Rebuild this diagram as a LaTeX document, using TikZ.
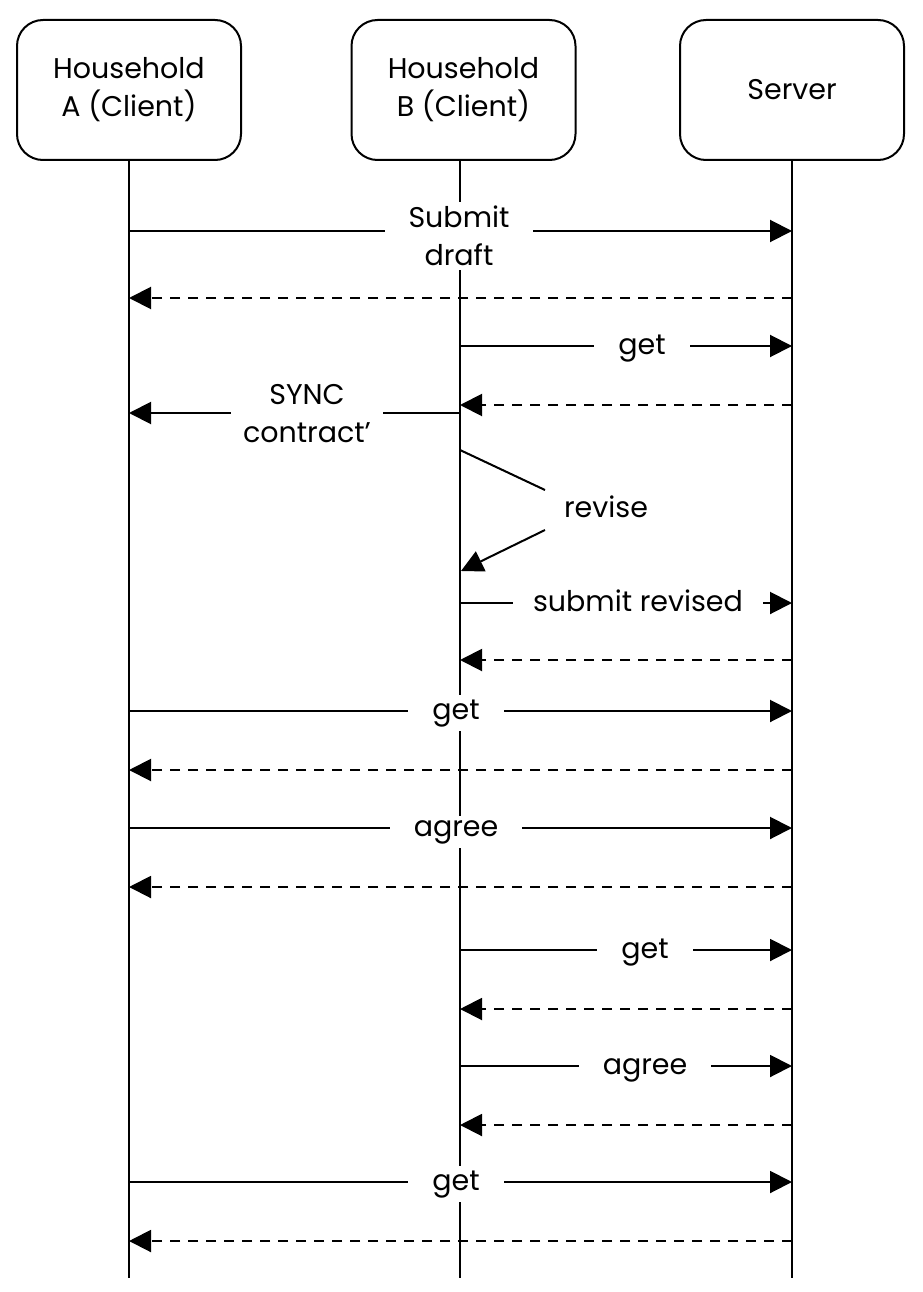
\documentclass[tikz,border=0pt]{standalone}
\usepackage{fontspec}
\setmainfont{Poppins}
\usetikzlibrary{arrows.meta}
\begin{document}
\begin{tikzpicture}[x=1pt,y=-1pt,
  actor/.style={draw,line width=2pt,rounded corners=26pt,minimum width=224pt,minimum height=140pt,align=center,inner sep=0pt,font=\fontsize{28.5}{38}\selectfont},
  life/.style={line width=2pt},
  msg/.style={line width=2pt,-{Triangle[length=22pt,width=22pt]}},
  plain/.style={line width=2pt},
  ret/.style={msg,dash pattern=on 10pt off 8pt},
  lbl/.style={fill=white,inner xsep=24pt,inner ysep=4pt,align=center,font=\fontsize{28.5}{38}\selectfont},
  one/.style={lbl,anchor=base}]
\useasboundingbox (0,0) rectangle (922,1292);
\node[actor] (A) at (129,90) {Household\\A (Client)};
\node[actor] (B) at (463.5,90) {Household\\B (Client)};
\node[actor] (S) at (792,90) {Server};
\coordinate (Ae) at (129,1278);
\coordinate (Be) at (460,1278);
\coordinate (Se) at (792,1278);
\coordinate (Bs) at (460,160);
\draw[life] (A.south) -- (Ae);
\draw[life] (Bs) -- (Be);
\draw[life] (S.south) -- (Se);
% messages
\foreach \y/\f/\t/\s in {231/A/S/msg, 298/S/A/ret, 346/B/S/msg, 405/S/B/ret, 413/B/A/msg,
  603/B/S/msg, 660/S/B/ret, 711/A/S/msg, 770/S/A/ret, 828/A/S/msg, 887/S/A/ret,
  950/B/S/msg, 1009/S/B/ret, 1066/B/S/msg, 1125/S/B/ret, 1182/A/S/msg, 1241/S/A/ret}
  \draw[\s] (\f e |- 0,\y) -- (\t e |- 0,\y);
% self message
\coordinate (r1) at (460,450);
\coordinate (r2) at (545,490);
\coordinate (r3) at (545,530);
\coordinate (r4) at (461,571);
\draw[plain] (r1) -- (r2);
\draw[msg] (r3) -- (r4);
% labels
\node[lbl] (l1) at (459,236) {Submit\\draft};
\node[one] (l2) at (642,354) {get};
\node[lbl,inner xsep=12pt] (l3) at (307,414) {SYNC\\contract’};
\node[one,inner xsep=18pt] (l4) at (606,517) {revise};
\node[one,inner xsep=20pt] (l5) at (638,611) {submit revised};
\node[one] (l6) at (456,719) {get};
\node[one] (l7) at (456,836) {agree};
\node[one] (l8) at (645,958) {get};
\node[one] (l9) at (645,1074) {agree};
\node[one] (l10) at (456,1190) {get};
\end{tikzpicture}
\end{document}
